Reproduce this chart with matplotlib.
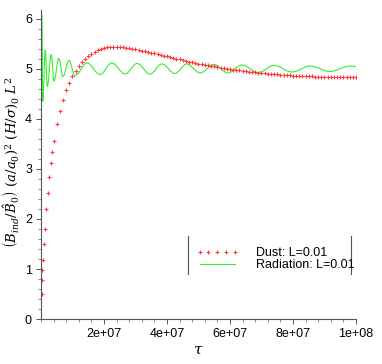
import numpy as np
import matplotlib
matplotlib.use("Agg")
import matplotlib.pyplot as plt
from matplotlib.path import Path
from matplotlib.patches import PathPatch
from matplotlib.lines import Line2D
from matplotlib.ticker import FuncFormatter, MultipleLocator

plt.rcParams['font.family'] = ['Liberation Sans', 'DejaVu Sans']
plt.rcParams['mathtext.fontset'] = 'dejavuserif'

# dust: tau in units of 1e6
dust_tau = [0.25, 0.32, 0.41, 0.63, 0.86, 1.2, 1.7, 2.1, 2.6, 3.1, 3.6, 4.2, 5.2, 6.1, 7.1,
            8, 9, 10, 11, 12, 13, 14, 15, 16, 17, 18, 19,
            20, 21, 22, 23, 24, 25, 26, 27, 28, 29, 30, 31, 32, 33, 34, 35, 36, 37, 38, 39,
            40, 41, 42, 43, 44, 45, 46, 47, 48, 49, 50, 51, 52, 53, 54, 55, 56, 57, 58, 59,
            60, 61, 62, 63, 64, 65, 66, 67, 68, 69, 70, 71, 72, 73, 74, 75, 76, 77, 78, 79,
            80, 81, 82, 83, 84, 85, 86, 87, 88, 89, 90, 91, 92, 93, 94, 95, 96, 97, 98, 99, 100]
dust_val = [0.51, 0.78, 0.99, 1.19, 1.51, 1.80, 2.19, 2.51, 2.83, 3.11, 3.34, 3.55, 3.90, 4.16, 4.38,
            4.58, 4.72, 4.85, 4.95, 5.05, 5.13, 5.19, 5.26, 5.30, 5.34, 5.37, 5.40,
            5.41, 5.43, 5.43, 5.44, 5.44, 5.44, 5.43, 5.42, 5.41, 5.40, 5.39, 5.37, 5.36, 5.35, 5.33, 5.32, 5.31, 5.29, 5.28, 5.26,
            5.25, 5.23, 5.22, 5.20, 5.19, 5.17, 5.16, 5.14, 5.13, 5.12, 5.10, 5.09, 5.08, 5.07, 5.06, 5.05, 5.03, 5.02, 5.01, 5.00,
            4.99, 4.98, 4.98, 4.97, 4.96, 4.95, 4.94, 4.94, 4.93, 4.92, 4.92, 4.91, 4.90, 4.90, 4.89, 4.89, 4.88, 4.88, 4.87, 4.87,
            4.86, 4.86, 4.86, 4.85, 4.85, 4.85, 4.85, 4.84, 4.84, 4.84, 4.84, 4.84, 4.83, 4.83, 4.83, 4.83, 4.83, 4.83, 4.83, 4.83, 4.83]

# radiation: turning points of the oscillation, tau in units of 1e6
rad_tau = [0.3, 0.55, 1.37, 2.0, 3.27, 4.13, 5.62, 6.98, 8.89, 10.8, 14.6, 18.7, 22.5, 26.7, 30.5,
           34.6, 38.4, 42.5, 46.3, 50.5, 54.9, 59.4, 63.8, 68.9, 74.0, 79.7, 85.4, 91.7, 98.1, 100]
rad_val = [6.08, 4.35, 5.38, 4.65, 5.29, 4.76, 5.21, 4.85, 5.17, 4.87, 5.12, 4.89, 5.12, 4.90, 5.11,
           4.90, 5.10, 4.91, 5.10, 4.92, 5.09, 4.92, 5.08, 4.93, 5.07, 4.94, 5.06, 4.95, 5.06, 5.05]

dust_label = "Dust: L=0.01"
rad_label = "Radiation: L=0.01"
xticks = [2e7, 4e7, 6e7, 8e7, 1e8]
yticks = [0, 1, 2, 3, 4, 5, 6]

fig = plt.figure(figsize=(3.82, 3.64), dpi=100)
ax = fig.add_axes([0.1073, 0.1236, 0.8246, 0.849])

red = '#ff3a3a'
green = '#33ee33'

dt = np.array(dust_tau) * 1e6
ax.plot(dt, dust_val, linestyle='none', marker='+', markersize=3.0, mew=0.8, color=red)

# smooth curve through the turning points (horizontal tangents at extrema)
rt = np.array(rad_tau) * 1e6
verts = [(rt[0], rad_val[0])]
codes = [Path.MOVETO]
for i in range(1, len(rt)):
    h = (rt[i] - rt[i - 1]) * 0.364
    verts += [(rt[i - 1] + h, rad_val[i - 1]), (rt[i] - h, rad_val[i]), (rt[i], rad_val[i])]
    codes += [Path.CURVE4] * 3
ax.add_patch(PathPatch(Path(verts, codes), fill=False, edgecolor=green, lw=0.8))

ax.set_xlim(0, 1e8)
ax.set_ylim(0, 6.18)
for s in ['top', 'right']:
    ax.spines[s].set_visible(False)
for s in ['left', 'bottom']:
    ax.spines[s].set_color('#555555')
    ax.spines[s].set_linewidth(0.8)

ax.set_xticks(xticks)
ax.set_yticks(yticks)
ax.xaxis.set_minor_locator(MultipleLocator(4e6))
ax.yaxis.set_minor_locator(MultipleLocator(0.2))
ax.xaxis.set_major_formatter(FuncFormatter(lambda v, p: '%.0e' % v))
ax.tick_params(which='major', length=3.5, width=0.7, color='#555555', labelsize=9, pad=3)
ax.tick_params(which='minor', length=2, width=0.6, color='#777777')

ax.set_xlabel(r'$\tau$', fontsize=11, labelpad=2)
ax.set_ylabel(r'$\left(B_{ind}/\hat{B}_0\right)\ (a/a_0)^2\ (H/\sigma)_0\ L^2$', fontsize=9.5)
ax.yaxis.set_label_coords(-0.063, 0.508)

handles = [Line2D([], [], linestyle='none', marker='+', markersize=3.0, mew=0.8, color=red),
           Line2D([], [], color=green, lw=0.8)]
leg = ax.legend(handles, [dust_label, rad_label], loc='upper left', bbox_to_anchor=(0.46, 0.265),
                frameon=False, fontsize=9, numpoints=5, handlelength=3.4, handletextpad=1.4,
                labelspacing=0.0, borderpad=0.3)
ax.plot([0.468, 0.468], [0.145, 0.27], transform=ax.transAxes, color='#555555', lw=0.8, clip_on=False)
ax.plot([0.983, 0.983], [0.145, 0.27], transform=ax.transAxes, color='#555555', lw=0.8, clip_on=False)

fig.savefig('out.png', dpi=100)
